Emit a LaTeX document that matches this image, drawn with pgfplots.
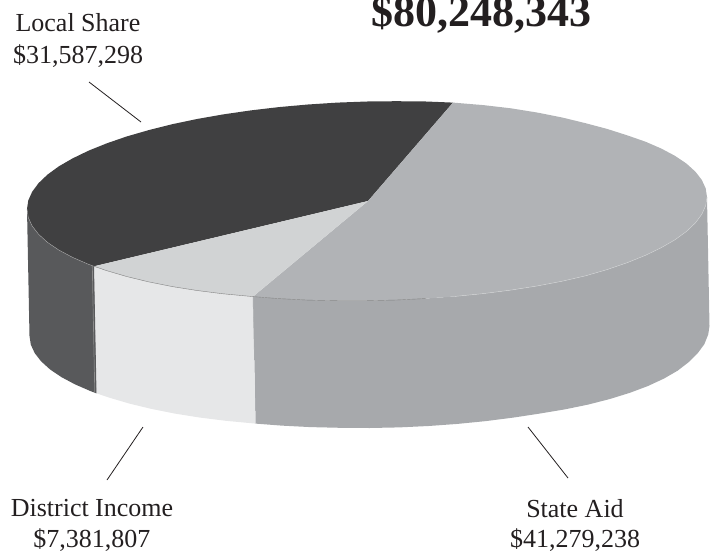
\documentclass[border=0pt]{standalone}
\usepackage{pgfplots}
\pgfplotsset{compat=1.18}
\usepackage{fontspec}
\setmainfont{Liberation Serif}
\definecolor{darktop}{HTML}{404041}
\definecolor{darkside}{HTML}{58595B}
\definecolor{midtop}{HTML}{B1B3B6}
\definecolor{midside}{HTML}{A7A9AC}
\definecolor{lighttop}{HTML}{D1D3D4}
\definecolor{lightside}{HTML}{E6E7E8}
\definecolor{ink}{HTML}{231F20}
\tikzset{lab/.style={font=\fontsize{26}{28}\selectfont, text=ink, inner sep=0pt, anchor=base}}
\begin{document}
\begin{tikzpicture}
\useasboundingbox (0,0) rectangle (713pt,552pt);
\begin{axis}[
  at={(0,0)}, anchor=south west,
  scale only axis, width=713pt, height=552pt,
  xmin=0, xmax=713, ymin=0, ymax=552, y dir=reverse,
  hide axis, clip=false, no markers,
]
% side walls
\addplot[fill=midside, draw=none] coordinates {
 (707,197) (705.7,205.6) (701.8,214.3) (695.4,222.9) (686.5,231.4) (675.1,239.7) (661.4,247.6) (645.5,255.3)
 (627.4,262.6) (607.4,269.5) (585.6,275.8) (562.2,281.2) (537,286) (510.8,290.1) (483.3,293.6) (455.1,296.4)
 (426.1,298.5) (396.6,300) (367,300.7) (337.4,300.7) (307.9,300.1) (278.9,298.6) (253,296.6)
 (255.5,423.6) (281.4,425.6) (310.4,427.1) (339.9,427.8) (369.5,428) (399.1,427.4) (428.6,426) (457.6,423.9)
 (485.8,421.1) (513.3,417.6) (539.5,413.6) (564.7,409.4) (588.1,404.6) (609.9,399) (629.9,392.8) (648,386)
 (663.9,378.6) (677.6,370.7) (689,361.9) (697.9,352.9) (704.3,344.3) (708.2,334.6) (709.5,326)
} -- cycle;
\addplot[fill=lightside, draw=none] coordinates {
 (253,296.6) (223.2,293.8) (197,290.5) (171.8,286.5) (148.4,281.8) (126.6,276.5) (106.6,270.6) (94,266.3)
 (96.5,393.3) (109.1,397.6) (129.1,403.5) (150.9,408.8) (174.3,413.5) (199.5,417.5) (225.7,420.8) (255.5,423.6)
} -- cycle;
\addplot[fill=darkside, draw=none] coordinates {
 (94,266.3) (88.5,264.3) (72.6,257.4) (58.9,250.1) (47.5,242.4) (38.6,234.3) (32.2,226.1) (28.3,217.6) (27,209)
 (29.5,336) (30.8,344.6) (34.7,353.1) (41.1,361.3) (50,369.4) (61.4,377.1) (75.1,384.4) (91,391.3) (96.5,393.3)
} -- cycle;
% thin strip between dark and light wall
\addplot[draw=black!45, line width=0.7pt] coordinates {(92.3,265.5) (94.8,392.6)};
\addplot[draw=darkside, line width=0.6pt] coordinates {(93.4,266) (95.8,393)};
\addplot[draw=midside, line width=0.5pt] coordinates {(253,296.6) (254.5,360)};
% top faces
\addplot[fill=darktop, draw=none] coordinates {
 (368,201) (94,266.3) (88.5,264.3) (72.6,257.4) (58.9,250.1) (47.5,242.4) (38.6,234.3) (32.2,226.1) (28.3,217.6) (27,209)
 (28.3,200.4) (32.2,191.7) (38.6,183.1) (47.5,174.6) (58.9,166.3) (72.6,158.4) (88.5,150.7) (106.6,143.4)
 (126.6,136.5) (148.4,130.2) (171.8,124.3) (197,119) (223.2,114.4) (250.7,110.4) (278.9,107.1) (307.9,104.5)
 (337.4,102.6) (367,101.5) (396.6,101.2) (426.1,101.5) (453,102.6)
} -- cycle;
\addplot[fill=midtop, draw=none] coordinates {
 (368,201) (453,102.6) (483.3,105.1) (510.8,108.3) (537,112.5) (562.2,117.5) (585.6,123.2) (607.4,129) (627.4,135.4)
 (645.5,141.7) (661.4,148.6) (675.1,155.9) (686.5,163.6) (695.4,171.7) (701.8,179.9) (705.7,188.4) (707,197)
 (705.7,205.6) (701.8,214.3) (695.4,222.9) (686.5,231.4) (675.1,239.7) (661.4,247.6) (645.5,255.3)
 (627.4,262.6) (607.4,269.5) (585.6,275.8) (562.2,281.2) (537,286) (510.8,290.1) (483.3,293.6) (455.1,296.4)
 (426.1,298.5) (396.6,300) (367,300.7) (337.4,300.7) (307.9,300.1) (278.9,298.6) (253,296.6)
} -- cycle;
\addplot[fill=lighttop, draw=none] coordinates {
 (368,201) (253,296.6) (223.2,293.8) (197,290.5) (171.8,286.5) (148.4,281.8) (126.6,276.5) (106.6,270.6) (94,266.3)
} -- cycle;
% seams along the rim
\addplot[draw=lighttop, line width=0.4pt] coordinates {
 (707,197) (705.7,205.6) (701.8,214.3) (695.4,222.9) (686.5,231.4) (675.1,239.7) (661.4,247.6) (645.5,255.3)
 (627.4,262.6) (607.4,269.5) (585.6,275.8) (562.2,281.2) (537,286) (510.8,290.1) (483.3,293.6) (455.1,296.4)};
\addplot[draw=black!50, line width=0.4pt] coordinates {
 (426.1,298.5) (396.6,300) (367,300.7) (337.4,300.7) (307.9,300.1) (278.9,298.6) (253,296.6)
 (223.2,293.8) (197,290.5) (171.8,286.5) (148.4,281.8) (126.6,276.5) (106.6,270.6) (94,266.3)};
\addplot[draw=black!35, line width=0.4pt] coordinates {
 (94,266.3) (88.5,264.3) (72.6,257.4) (58.9,250.1) (47.5,242.4) (38.6,234.3) (32.2,226.1) (28.3,217.6) (27,209)};
% leader lines
\addplot[draw=ink, line width=0.8pt] coordinates {(89,82) (141,122)};
\addplot[draw=ink, line width=0.8pt] coordinates {(143,427) (107,480)};
\addplot[draw=ink, line width=0.8pt] coordinates {(528,427) (568,478)};
% labels
\node[lab] at (axis cs:78,31) {Local Share};
\node[lab] at (axis cs:78,63) {\$31,587,298};
\node[lab] at (axis cs:92,516) {District Income};
\node[lab] at (axis cs:92,547) {\$7,381,807};
\node[lab] at (axis cs:575,517) {State Aid};
\node[lab] at (axis cs:575,547.5) {\$41,279,238};
\node[font=\fontsize{44}{46}\selectfont\bfseries, text=ink, inner sep=0pt, anchor=base] at (axis cs:481,26) {\$80,248,343};
\end{axis}
\end{tikzpicture}
\end{document}
